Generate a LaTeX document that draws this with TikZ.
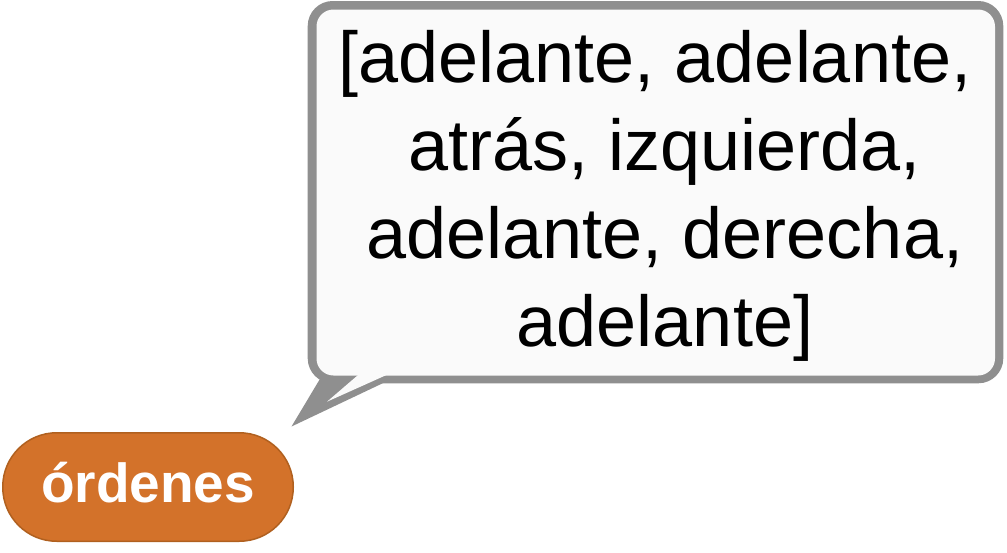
\documentclass[tikz,border=0pt]{standalone}
\usepackage{fontspec}
\setmainfont{Liberation Sans}
\definecolor{bubbleline}{HTML}{8F8F8F}
\definecolor{bubblefill}{HTML}{FAFAFA}
\definecolor{pillfill}{HTML}{D3722A}
\definecolor{pillline}{HTML}{B0601F}
\tikzset{
  msgtext/.style={font=\fontsize{72}{88}\selectfont, align=center, inner sep=0pt, text=black},
  pill/.style={draw=pillline, line width=1.5pt, fill=pillfill, rounded corners=54pt,
    minimum width=290.5pt, minimum height=108.5pt, inner sep=0pt, text=white,
    font=\fontsize{55}{66}\selectfont\bfseries, text height=30pt, text depth=0pt}
}
\begin{document}
\begin{tikzpicture}[x=1pt,y=-1pt]
\useasboundingbox (0,0) rectangle (1007,552);
% speech bubble: outline shape, then inset fill shape
\fill[bubbleline, rounded corners=25pt] (307.7,1) rectangle (1003.3,383.3);
\fill[bubbleline] (321.7,376) -- (291.5,426.5) -- (398,376) -- cycle;
\fill[bubblefill, rounded corners=17pt] (316.5,9.5) rectangle (995,375.5);
\fill[bubblefill] (363.9,370) -- (327,401.7) -- (397.6,370) -- cycle;
\node[msgtext, anchor=base] (msg) at (665,346) {[adelante, adelante,\hspace*{20pt}\\atrás, izquierda,\\adelante, derecha,\\adelante]};
% variable reporter
\node[pill] (ord) at (148,487) {órdenes};
\end{tikzpicture}
\end{document}
